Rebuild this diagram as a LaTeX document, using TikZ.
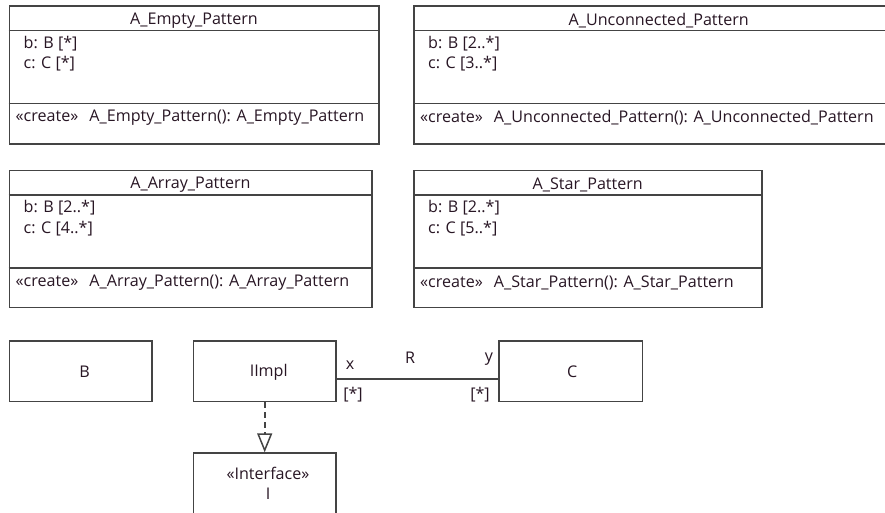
\documentclass[tikz,border=0pt]{standalone}
\usepackage{fontspec}
\setmainfont{Open Sans}
\usetikzlibrary{calc,arrows.meta}
\definecolor{umltext}{RGB}{40,22,36}
\definecolor{umlline}{RGB}{68,68,68}
\tikzset{
  classbox/.style={draw=umlline, line width=1.5pt, rectangle, inner sep=0pt, fill=white},
  boxline/.style={draw=umlline, line width=1.5pt},
  txt/.style={text=umltext, inner sep=0pt, font=\fontsize{16.1}{19}\selectfont},
  realize/.style={draw=umlline, line width=2pt, dash pattern=on 6pt off 4pt,
    -{Triangle[open, length=19pt, width=15pt, line width=1.5pt]}},
  assoc/.style={draw=umlline, line width=1.5pt}
}
\newcommand{\umlclass}[9]{%
  \node[classbox, minimum width=#4, minimum height=#5, anchor=north west] (#1) at (#2,#3) {};
  \draw[boxline] ($(#1.north west)+(0,25.5)$) -- ($(#1.north east)+(0,25.5)$);
  \draw[boxline] ($(#1.north west)+(0,98.7)$) -- ($(#1.north east)+(0,98.7)$);
  \node[txt] (#1-title) at ($(#1.north)+(0,15.5)$) {#6};
  \node[txt, anchor=west] (#1-a1) at ($(#1.north west)+(15,38.5)$) {#7};
  \node[txt, anchor=west] (#1-a2) at ($(#1.north west)+(15,59)$) {#8};
  \node[txt, anchor=west] (#1-op) at ($(#1.north west)+(7,113)$) {#9};
}
\begin{document}
\begin{tikzpicture}[x=1pt, y=-1pt]
  \clip (0,0) rectangle (885,512);
  \fill[white] (0,0) rectangle (885,512);

  \umlclass{empty}{8.5}{5}{369.5pt}{138.3pt}{A\_Empty\_Pattern}{b: B [*]}{c: C [*]}{«create»\hspace{7pt} A\_Empty\_Pattern(): A\_Empty\_Pattern}
  \umlclass{unconn}{413}{5}{490pt}{138.3pt}{A\_Unconnected\_Pattern}{b: B [2..*]}{c: C [3..*]}{«create»\hspace{7pt} A\_Unconnected\_Pattern(): A\_Unconnected\_Pattern}
  \umlclass{array}{8.5}{169.5}{362.5pt}{137.2pt}{A\_Array\_Pattern}{b: B [2..*]}{c: C [4..*]}{«create»\hspace{7pt} A\_Array\_Pattern(): A\_Array\_Pattern}
  \umlclass{star}{413}{169.5}{348pt}{137.2pt}{A\_Star\_Pattern}{b: B [2..*]}{c: C [5..*]}{«create»\hspace{7pt} A\_Star\_Pattern(): A\_Star\_Pattern}

  \node[classbox, minimum width=142.5pt, minimum height=60.7pt, anchor=north west] (b) at (8.5,340) {};
  \node[txt] (b-name) at ($(b.center)+(4,1)$) {B};
  \node[classbox, minimum width=142.5pt, minimum height=60.7pt, anchor=north west] (impl) at (192.7,340) {};
  \node[txt] (impl-name) at ($(impl.center)+(4,1)$) {IImpl};
  \node[classbox, minimum width=143.3pt, minimum height=60.7pt, anchor=north west] (c) at (498.3,340) {};
  \node[txt] (c-name) at ($(c.center)+(1.5,1)$) {C};
  \node[classbox, minimum width=142.5pt, minimum height=70pt, anchor=north west] (i) at (192.7,452.3) {};
  \node[txt] (i-st) at (268,473.3) {«Interface»};
  \node[txt] (i-name) at (268,493.3) {I};

  \draw[realize] (impl.south) -- (i.north);
  \draw[assoc] ([yshift=-8pt]impl.east) -- ([yshift=-8pt]c.west);
  \node[txt] (lx) at (350,365) {x};
  \node[txt] (lxm) at (353,395) {[*]};
  \node[txt] (lr) at (410,358) {R};
  \node[txt] (ly) at (489,359) {y};
  \node[txt] (lym) at (480,395) {[*]};
\end{tikzpicture}
\end{document}
